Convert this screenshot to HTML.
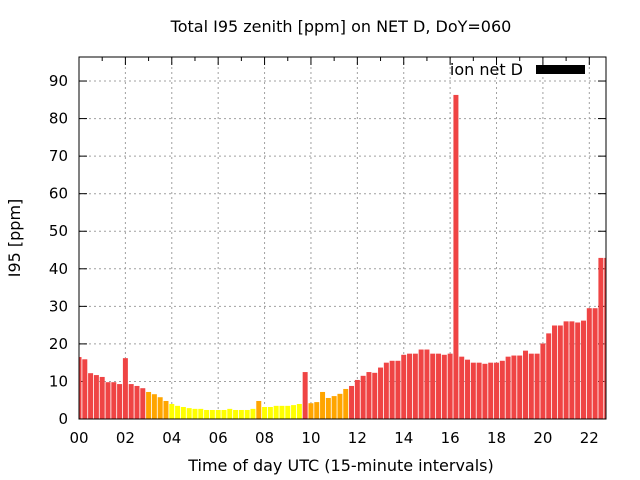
<!DOCTYPE html>
<html><head><meta charset="utf-8"><style>
body{margin:0;background:#fff;}
svg{display:block;font-family:"DejaVu Sans","Liberation Sans",sans-serif;}
</style></head><body>
<svg id="chart" width="640" height="480" viewBox="0 0 640 480">
<text x="341" y="32" text-anchor="middle" font-size="16">Total I95 zenith [ppm] on NET D, DoY=060</text>
<text x="341" y="471" text-anchor="middle" font-size="16">Time of day UTC (15-minute intervals)</text>
<text transform="translate(20,238) rotate(-90)" text-anchor="middle" font-size="16">I95 [ppm]</text>
<g id="grid"></g><g id="ticks"></g><g id="bars"></g><g id="axes"></g>
<text x="523" y="75" text-anchor="end" font-size="16">ion net D</text>
<rect x="536" y="65" width="49" height="9" fill="#000"/>
</svg>
<script>
const hours = [];
for (let i = 0; i < 92; i++) hours.push(i * 0.25);
const values = [16.5,15.9,12.2,11.7,11.2,9.8,9.8,9.3,16.2,9.3,8.8,8.2,7.2,6.6,5.8,4.8,4.0,3.5,3.2,2.9,2.7,2.7,2.4,2.4,2.4,2.4,2.7,2.4,2.4,2.4,2.7,4.8,3.2,3.2,3.5,3.5,3.5,3.7,4.0,12.5,4.2,4.5,7.2,5.6,6.1,6.7,8.0,8.8,10.4,11.5,12.5,12.3,13.7,15.0,15.5,15.5,17.1,17.4,17.4,18.5,18.5,17.4,17.4,17.1,17.4,86.3,16.6,15.8,15.0,15.0,14.7,15.0,15.0,15.5,16.6,16.9,16.9,18.2,17.4,17.4,20.1,22.8,24.9,24.9,26.0,26.0,25.7,26.2,29.5,29.5,42.9,42.9];
const yTicks = [0,10,20,30,40,50,60,70,80,90];
const xTicks = [0,2,4,6,8,10,12,14,16,18,20,22];
const xTickLabels = ["00","02","04","06","08","10","12","14","16","18","20","22"];
const L=79,R=606,T=57,B=419,XMAX=22.72,YMAX=96.4;
const xs=h=>L+h/XMAX*(R-L), ys=v=>B-v/YMAX*(B-T);
const NS="http://www.w3.org/2000/svg";
function mk(tag,attrs,parent){const e=document.createElementNS(NS,tag);for(const k in attrs)e.setAttribute(k,attrs[k]);parent.appendChild(e);return e;}
const grid=document.getElementById('grid'),ticks=document.getElementById('ticks'),barsG=document.getElementById('bars'),axes=document.getElementById('axes');
yTicks.forEach(v=>{
  if(v>0){const g=mk('line',{x1:L,x2:R,y1:ys(v),y2:ys(v),stroke:'#a0a0a0','stroke-dasharray':'2,3'},grid);
  
  }
  mk('line',{x1:L,x2:L+8,y1:ys(v),y2:ys(v),stroke:'#000'},ticks);
  mk('line',{x1:R,x2:R-8,y1:ys(v),y2:ys(v),stroke:'#000'},ticks);
  const t=mk('text',{x:L-11,y:ys(v)+5,'text-anchor':'end','font-size':15},axes);t.textContent=v;
  
  
});
xTicks.forEach((h,i)=>{
  if(h>0){const g=mk('line',{x1:xs(h),x2:xs(h),y1:T,y2:B,stroke:'#a0a0a0','stroke-dasharray':'2,3'},grid);
  
  }
  const t=mk('text',{x:xs(h),y:B+24,'text-anchor':'middle','font-size':15},axes);t.textContent=xTickLabels[i];
  
  
});
for(let h=0;h<=22;h++){
  const len=h%2===0?8:4;
  mk('line',{x1:xs(h),x2:xs(h),y1:B,y2:B-len,stroke:'#000'},ticks);
  mk('line',{x1:xs(h),x2:xs(h),y1:T,y2:T+len,stroke:'#000'},ticks);
}
const bw=0.86*0.25/XMAX*(R-L);
values.forEach((v,i)=>{
  const c=v<4.1?'#ffff00':(v<8.1?'#ffa500':'#ef4444');
  let x0=xs(hours[i])-bw/2,x1=x0+bw;
  x0=Math.max(x0,L);x1=Math.min(x1,R);
  const r=mk('rect',{x:x0,y:ys(v),width:x1-x0,height:B-ys(v),fill:c},barsG);
  
  
});
const f=mk('rect',{x:L,y:T,width:R-L,height:B-T,fill:'none',stroke:'#000','stroke-width':1},axes);


</script>
</body></html>
